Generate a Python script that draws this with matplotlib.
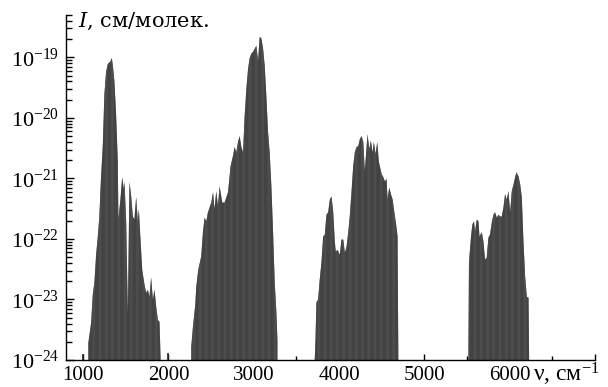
import numpy as np
import matplotlib
matplotlib.use("Agg")
import matplotlib.pyplot as plt
from matplotlib.ticker import FixedLocator, NullFormatter

plt.rcParams['font.family'] = ['Liberation Serif', 'DejaVu Serif']
plt.rcParams['mathtext.fontset'] = 'custom'
plt.rcParams['mathtext.rm'] = 'Liberation Serif'
plt.rcParams['mathtext.it'] = 'Liberation Serif:italic'
plt.rcParams['hatch.linewidth'] = 0.5

# band envelopes: wavenumber (cm^-1) and log10 of intensity
band1_nu = [1062, 1062, 1094, 1114, 1133, 1153, 1173, 1191, 1211, 1231, 1250, 1270, 1290, 1320,
            1337, 1349, 1367, 1387, 1407, 1414, 1438, 1458, 1478, 1485, 1505, 1517, 1525, 1544,
            1564, 1583, 1602, 1622, 1642, 1654, 1673, 1693, 1720, 1740, 1760, 1778, 1798, 1818,
            1837, 1857, 1877, 1896, 1908, 1908]
band1_log = [-24, -23.72, -23.39, -22.92, -22.72, -22.26, -21.96, -21.63, -20.97, -20.47, -19.61,
             -19.24, -19.11, -19.07, -19.01, -19.14, -19.39, -19.94, -20.72, -21.68, -21.35, -20.98,
             -21.18, -21.05, -21.71, -22.62, -23.22, -21.06, -21.30, -21.63, -21.68, -21.31, -21.71,
             -21.51, -22.01, -22.51, -22.76, -22.89, -22.84, -22.96, -22.64, -23.0, -22.84, -23.12,
             -23.34, -23.37, -23.95, -24]

band2_nu = [2268, 2268, 2288, 2315, 2327, 2350, 2385, 2405, 2424, 2444, 2464, 2483, 2503, 2523,
            2541, 2561, 2581, 2600, 2632, 2659, 2699, 2729, 2757, 2776, 2796, 2816, 2835, 2855,
            2875, 2894, 2914, 2934, 2952, 2972, 2992, 3011, 3031, 3051, 3070, 3090, 3110, 3129,
            3148, 3168, 3187, 3207, 3227, 3246, 3266, 3278, 3278]
band2_log = [-24, -23.78, -23.45, -23.09, -22.79, -22.51, -22.29, -21.89, -21.65, -21.71, -21.56,
             -21.48, -21.40, -21.23, -21.51, -21.21, -21.46, -21.13, -21.40, -21.40, -21.23, -20.80,
             -20.63, -20.48, -20.57, -20.40, -20.30, -20.48, -20.57, -19.97, -19.52, -19.19, -19.02,
             -18.94, -18.91, -18.86, -18.81, -19.06, -18.66, -18.69, -18.86, -19.14, -19.64, -20.24,
             -20.57, -21.13, -21.89, -22.72, -23.22, -23.67, -24]

band3_nu = [3715, 3724, 3735, 3755, 3774, 3794, 3814, 3833, 3853, 3873, 3892, 3912, 3932, 3950,
            3962, 3982, 4009, 4029, 4049, 4068, 4088, 4108, 4126, 4146, 4166, 4185, 4205, 4225,
            4244, 4264, 4284, 4302, 4334, 4354, 4373, 4393, 4408, 4428, 4448, 4467, 4499, 4519,
            4537, 4557, 4569, 4589, 4608, 4628, 4648, 4666, 4686, 4695]
band3_log = [-24, -23.67, -23.05, -23.0, -22.67, -22.39, -21.96, -21.93, -21.60, -21.56, -21.35,
             -21.30, -21.56, -22.04, -22.21, -22.18, -22.26, -22.01, -22.01, -22.23, -22.13, -21.89,
             -21.63, -21.23, -20.80, -20.57, -20.48, -20.47, -20.35, -20.30, -20.40, -20.88, -20.27,
             -20.52, -20.38, -20.57, -20.40, -20.60, -20.40, -20.73, -20.93, -20.98, -21.05, -21.01,
             -21.35, -21.15, -21.26, -21.35, -21.56, -21.73, -21.96, -24]

band4_nu = [5516, 5523, 5547, 5563, 5582, 5594, 5614, 5634, 5646, 5673, 5692, 5711, 5731, 5751,
            5770, 5790, 5810, 5829, 5849, 5869, 5888, 5907, 5927, 5946, 5966, 5986, 6005, 6025,
            6045, 6064, 6080, 6104, 6123, 6142, 6162, 6181, 6201, 6221, 6228]
band4_log = [-24, -22.39, -21.96, -21.76, -21.71, -21.88, -21.68, -21.71, -21.96, -21.89, -22.04,
             -22.34, -22.31, -21.98, -21.93, -21.73, -21.60, -21.56, -21.65, -21.60, -21.63, -21.63,
             -21.48, -21.26, -21.35, -21.21, -21.56, -21.21, -21.10, -20.98, -20.90, -20.97, -21.10,
             -21.31, -22.06, -22.62, -22.96, -22.97, -24]

# single weak lines outside the bands
lone_nu = [1000, 1994]
lone_log = [-23.9, -23.88]

bands = [(band1_nu, band1_log), (band2_nu, band2_log), (band3_nu, band3_log), (band4_nu, band4_log)]

fig = plt.figure(figsize=(6.08, 3.87), dpi=100)
ax = fig.add_axes([66 / 608, 27 / 387, 529 / 608, 345 / 387])

base = 1e-24
for nu, lg in bands:
    ax.fill_between(nu, np.power(10.0, lg), base, facecolor='#2b2b2b', edgecolor='#5c5c5c',
                    hatch='|' * 14, linewidth=0, zorder=2)
ax.vlines(lone_nu, base, np.power(10.0, lone_log), color='#2b2b2b', linewidth=1.2, zorder=2)

ax.set_yscale('log')
ax.set_xlim(800, 7000)
ax.set_ylim(1e-24, 5e-19)

ax.set_xticks([1000, 2000, 3000, 4000, 5000, 6000, 7000])
ax.set_xticklabels(['1000', '2000', '3000', '4000', '5000', '6000', ''])
ax.set_xticks([1500, 2500, 3500, 4500, 5500, 6500], minor=True)
decades = [1e-24, 1e-23, 1e-22, 1e-21, 1e-20, 1e-19]
ax.yaxis.set_major_locator(FixedLocator(decades))
ax.yaxis.set_minor_locator(FixedLocator([k * d for d in decades for k in range(2, 10)]))
ax.yaxis.set_minor_formatter(NullFormatter())
ax.set_yticklabels([r'10$^{%d}$' % p for p in range(-24, -18)])

for s in ['top', 'right']:
    ax.spines[s].set_visible(False)
for s in ['left', 'bottom']:
    ax.spines[s].set_linewidth(1.0)

ax.tick_params(axis='both', which='both', direction='in', width=1.0)
ax.tick_params(axis='y', which='major', length=6, pad=5, labelsize=16)
ax.tick_params(axis='y', which='minor', length=4)
ax.tick_params(axis='x', which='major', length=4, pad=4, labelsize=15)
ax.tick_params(axis='x', which='minor', length=3)

fig.text(78 / 608, 1 - 27 / 387, '$I$, см/молек.', fontsize=15, ha='left', va='baseline',
         family=['DejaVu Serif'], math_fontfamily='dejavuserif')
fig.text(533 / 608, 1 - 381 / 387, 'ν, см$^{-1}$', fontsize=17, ha='left', va='baseline')

fig.savefig('out.png', dpi=100)
